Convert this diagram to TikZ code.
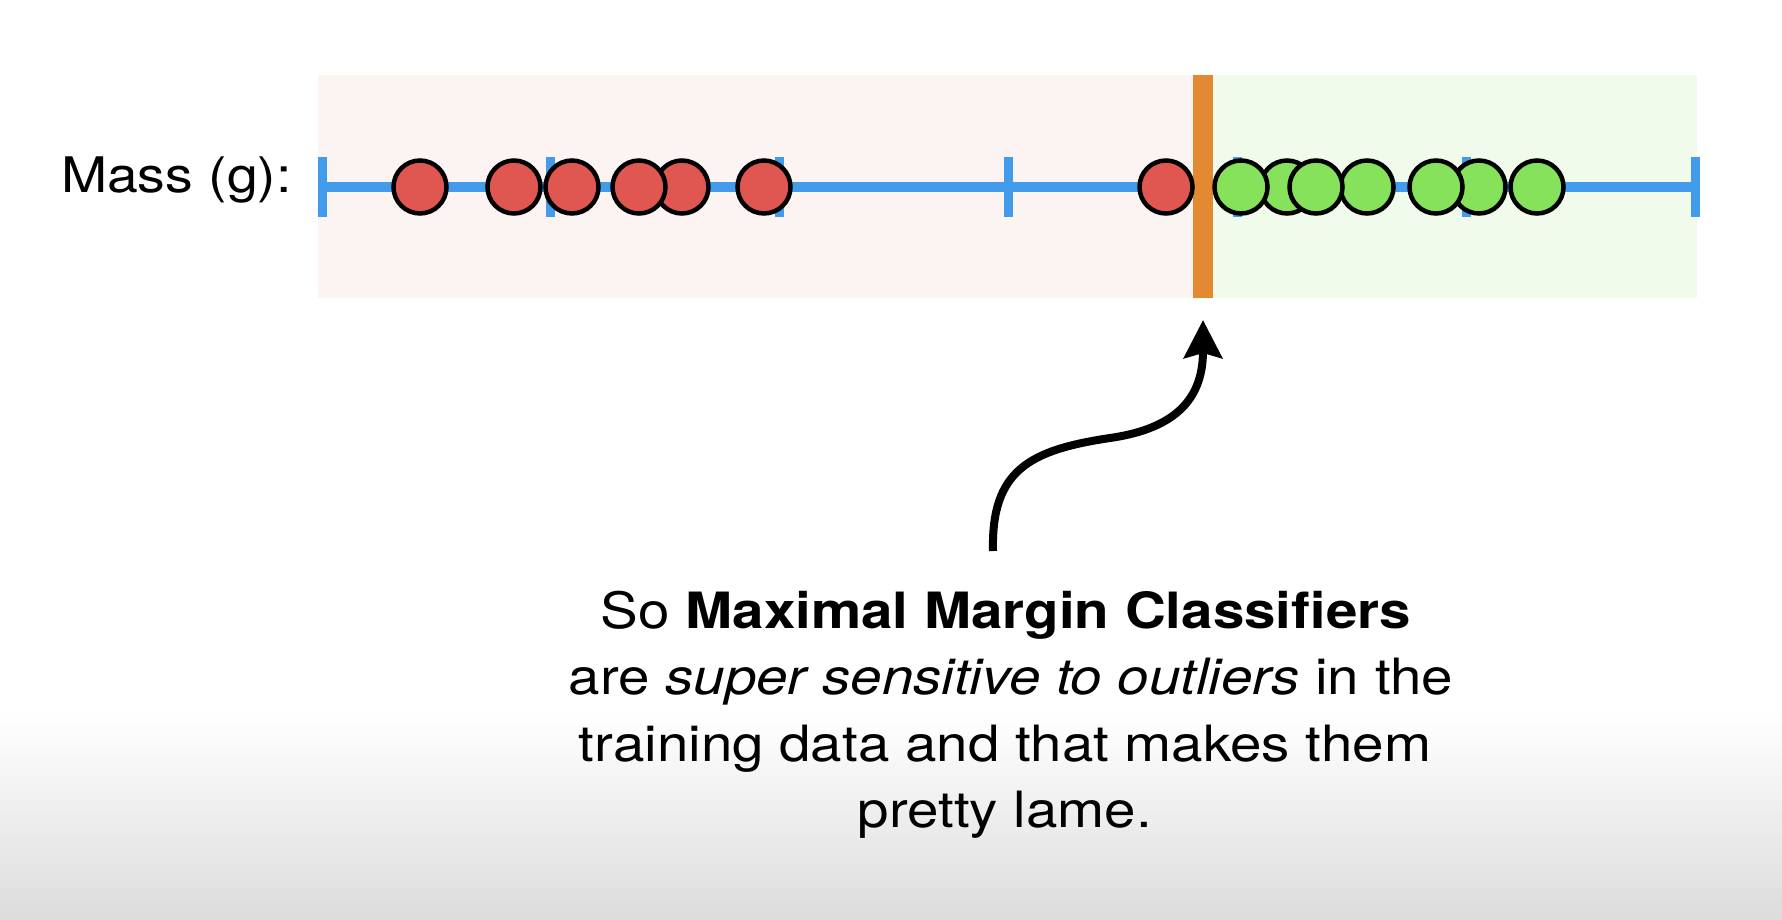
\documentclass[tikz,border=0pt]{standalone}
\usepackage{fontspec}
\setmainfont{TeX Gyre Heros}[FakeStretch=1.13]
\usetikzlibrary{arrows.meta,calc}

\definecolor{axisblue}{RGB}{66,155,235}
\definecolor{redfill}{RGB}{224,86,80}
\definecolor{greenfill}{RGB}{134,226,90}
\definecolor{marginorange}{RGB}{226,137,50}
\definecolor{pinkzone}{RGB}{252,243,243}
\definecolor{greenzone}{RGB}{240,251,235}
\definecolor{fadegray}{RGB}{220,220,220}

\tikzset{
  pt/.style={circle, draw=black, line width=4.5pt, minimum size=53pt, inner sep=0pt},
  redpt/.style={pt, fill=redfill},
  greenpt/.style={pt, fill=greenfill},
  axisline/.style={draw=axisblue, line width=10pt},
  axistick/.style={draw=axisblue, line width=9pt},
  pointer/.style={draw=black, line width=8pt, -{Stealth[length=38pt,width=38pt,inset=5pt]}},
  caption/.style={anchor=base, inner sep=0pt, font=\fontsize{50}{66}\selectfont},
}

\begin{document}
\begin{tikzpicture}[x=1pt,y=-1pt]
  % canvas and the soft grey fade along the bottom edge
  \useasboundingbox (0,0) rectangle (1782,920);
  \fill[white] (0,0) rectangle (1782,920);
  \shade[top color=white, bottom color=fadegray] (0,715) rectangle (1782,920);

  % class regions on either side of the threshold
  \fill[pinkzone] (318,75) rectangle (1193,298);
  \fill[greenzone] (1213,75) rectangle (1697,298);

  % number line with evenly spaced ticks
  \coordinate (a0) at (322,187);
  \coordinate (a6) at (1695,187);
  \draw[axisline] (a0) -- (a6);
  \foreach \i in {0,...,6} {
    \draw[axistick] ($(a0)!\i/6!(a6)$) ++(0,-29.5) -- ++(0,59);
  }

  % label of the axis
  \node[anchor=base east, inner sep=0pt, font=\fontsize{49}{58}\selectfont] (lbl) at (292,193) {Mass (g):};

  % threshold between the classes
  \fill[marginorange] (1193,75) rectangle (1213,298);
  \coordinate (bar) at (1203,320);

  % observations: right-hand ones first so left neighbours sit on top
  \node[redpt] (r7) at (1166,187) {};
  \node[redpt] (r6) at (764,187) {};
  \node[redpt] (r5) at (682,187) {};
  \node[redpt] (r4) at (639,187) {};
  \node[redpt] (r3) at (572,187) {};
  \node[redpt] (r2) at (514,187) {};
  \node[redpt] (r1) at (420,187) {};

  \node[greenpt] (g2) at (1287,187) {};
  \node[greenpt] (g7) at (1537,187) {};
  \node[greenpt] (g6) at (1479,187) {};
  \node[greenpt] (g5) at (1436,187) {};
  \node[greenpt] (g4) at (1367,187) {};
  \node[greenpt] (g3) at (1316,187) {};
  \node[greenpt] (g1) at (1241,187) {};

  % explanatory text
  \node[caption] (l1) at (1006,628) {So \textbf{Maximal Margin Classifiers}};
  \node[caption] (l2) at (1011,694) {are \textit{super sensitive to outliers} in the};
  \node[caption] (l3) at (1005,761) {training data and that makes them};
  \node[caption] (l4) at (1005,827) {pretty lame.};

  % curved pointer from the text up to the threshold
  \coordinate (tail) at (993,551);
  \draw[pointer] (tail) .. controls (991,470) and (1030,450) .. (1110,438)
                        .. controls (1180,428) and (1203,395) .. (bar);
\end{tikzpicture}
\end{document}
